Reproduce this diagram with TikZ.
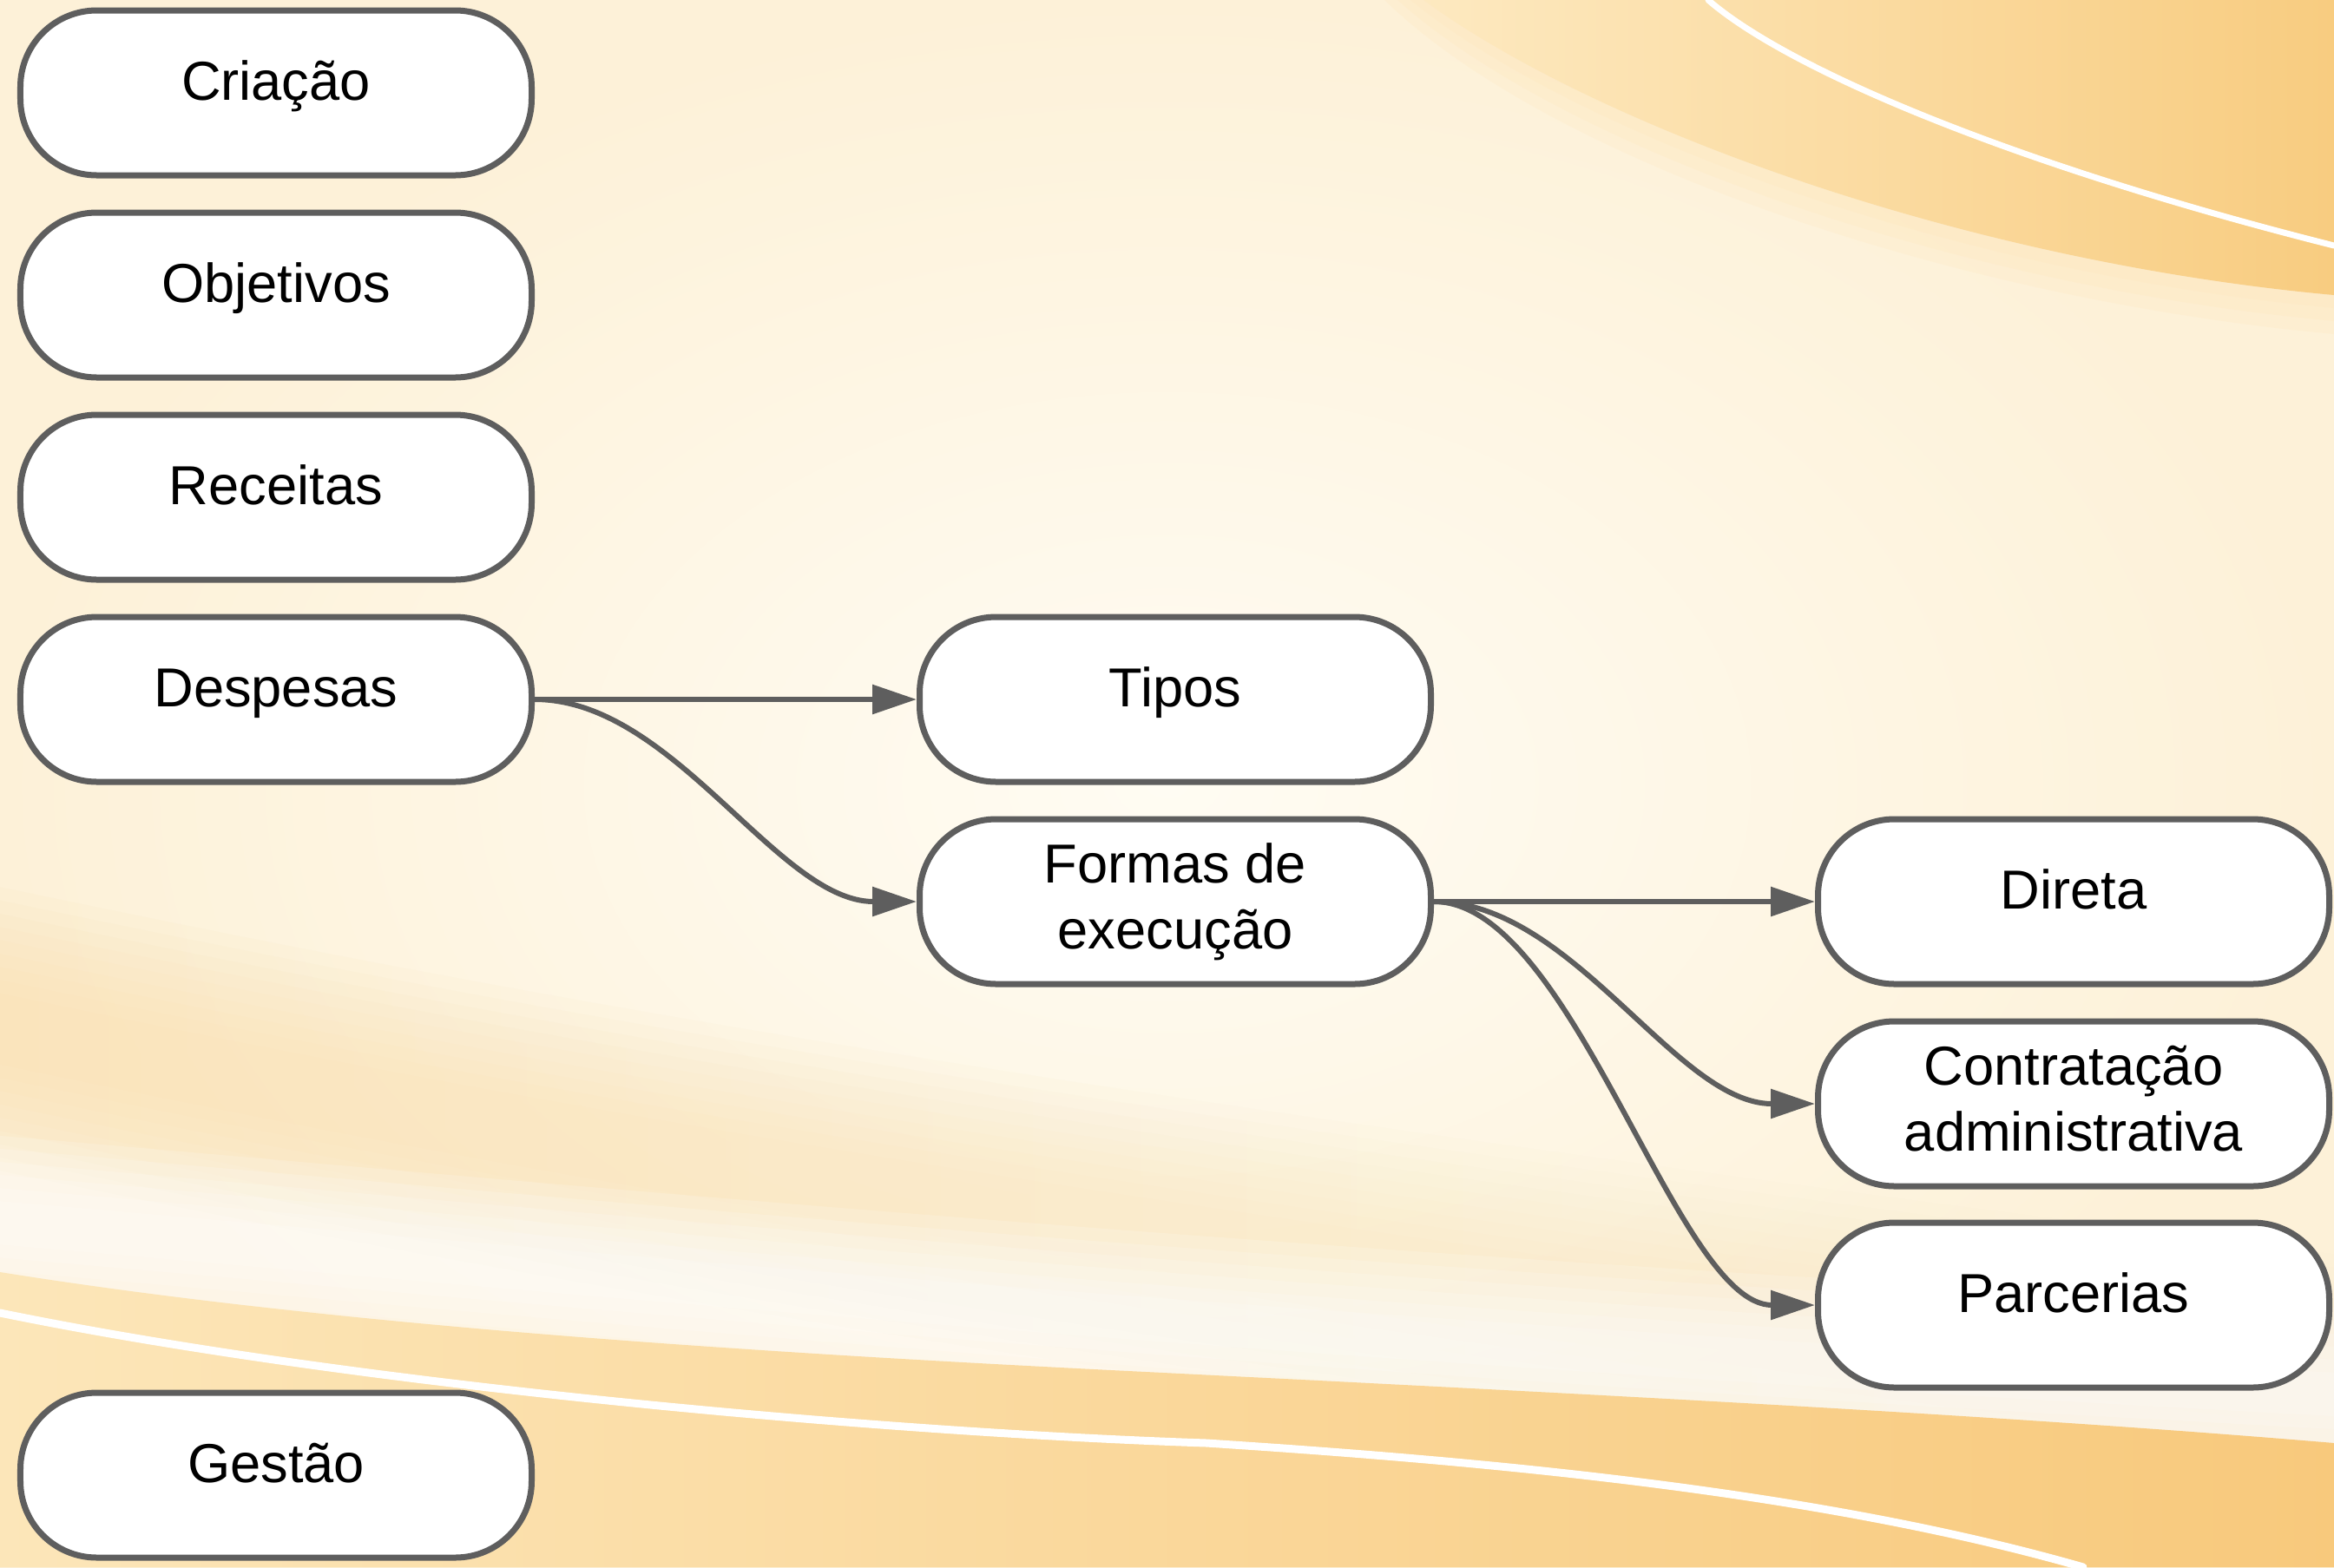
\documentclass[tikz,border=0pt]{standalone}
\usepackage{fontspec}
\setmainfont{Liberation Sans}
\usetikzlibrary{arrows.meta,fadings}
\definecolor{edgegray}{HTML}{5E5E5E}
\definecolor{bgin}{HTML}{FFFCF3}
\definecolor{bgout}{HTML}{FDF1D8}
\definecolor{orA}{HTML}{FDE9C0}
\definecolor{orB}{HTML}{F8CC80}
\definecolor{orC}{HTML}{FCE6B9}
\definecolor{orD}{HTML}{F8C97C}
\definecolor{faintA}{HTML}{FAE0AE}
\begin{document}
\begin{tikzpicture}[x=1cm,y=1cm,
  box/.style={draw=edgegray, line width=0.07cm, fill=white, rounded corners=0.88cm,
              minimum width=5.89cm, minimum height=1.90cm, inner sep=0pt},
  lbl/.style={font=\fontsize{18}{22}\selectfont, inner sep=0pt, anchor=base, text=black},
  conn/.style={draw=edgegray, line width=0.06cm, -{Triangle[length=0.51cm,width=0.33cm]}},
  wline/.style={draw=white, line cap=round}
]
\useasboundingbox (0,0) rectangle (26.89,-18.06);
% ---------- background ----------
\begin{scope}
\clip (0,0) rectangle (26.89,-18.06);
\shade[inner color=bgin, outer color=bgout] (0,0) rectangle (26.89,-18.06);
% top-right orange swoosh (soft edge + body)
\foreach \d/\o in {0.45/0.25, 0.3/0.3, 0.15/0.35}
  \fill[orA, opacity=\o] ([xshift=-\d cm]16.40,0) .. controls ([xshift=-\d cm, yshift=-\d cm]18.3,-1.4) and ([yshift=-\d cm]22.5,-3.0) .. ([yshift=-\d cm]26.89,-3.40) -- (26.89,0) -- cycle;
\shade[left color=orA, right color=orB] (16.40,0) .. controls (18.3,-1.4) and (22.5,-3.0) .. (26.89,-3.40) -- (26.89,0) -- cycle;
\draw[wline, line width=0.07cm] (19.68,0) .. controls (20.6,-0.8) and (23.2,-1.9) .. (26.89,-2.83);
% faint orange band at left (soft)
\foreach \w in {3.2,2.9,2.6,2.3,2.0,1.7,1.4,1.1,0.8}
  \draw[faintA, line width=\w cm, opacity=0.10, path fading=east]
    (-0.5,-11.75) .. controls (5,-12.9) and (11,-14.1) .. (28,-16.2);
% bright white swoosh (soft)
\foreach \w in {2.0,1.7,1.4,1.1,0.8,0.5}
  \draw[white, line width=\w cm, opacity=0.16]
    (-0.5,-14.05) .. controls (6,-14.6) and (14,-15.4) .. (27.5,-16.1);
% bottom orange region
\shade[left color=orC, right color=orD]
  (0,-14.66) .. controls (4,-15.3) and (9,-15.6) .. (13,-15.8)
  .. controls (18,-16.05) and (23,-16.3) .. (26.89,-16.63)
  -- (26.89,-18.06) -- (0,-18.06) -- cycle;
\draw[wline, line width=0.09cm]
  (0,-15.13) .. controls (4,-15.95) and (10,-16.5) .. (13.9,-16.63)
  .. controls (17.3,-16.85) and (21,-17.2) .. (24.0,-18.06);
\end{scope}
% ---------- nodes ----------
\node[box] (crea)   at (3.18,-1.07) {};
\node[box] (obj)    at (3.18,-3.40) {};
\node[box] (rec)    at (3.18,-5.73) {};
\node[box] (desp)   at (3.18,-8.06) {};
\node[box] (gest)   at (3.18,-17.00) {};
\node[box] (tipos)  at (13.54,-8.06) {};
\node[box] (formas) at (13.54,-10.39) {};
\node[box] (direta) at (23.89,-10.39) {};
\node[box] (contr)  at (23.89,-12.72) {};
\node[box] (parc)   at (23.89,-15.04) {};
% ---------- labels ----------
\node[lbl] (creaT)   at ([yshift=-0.08cm]crea.center) {Criação};
\node[lbl] (objT)    at ([yshift=-0.08cm]obj.center) {Objetivos};
\node[lbl] (recT)    at ([yshift=-0.08cm]rec.center) {Receitas};
\node[lbl] (despT)   at ([yshift=-0.08cm]desp.center) {Despesas};
\node[lbl] (gestT)   at ([yshift=-0.08cm]gest.center) {Gestão};
\node[lbl] (tiposT)  at ([yshift=-0.08cm]tipos.center) {Tipos};
\node[lbl] (formasT1) at ([yshift=0.22cm]formas.center) {Formas de};
\node[lbl] (formasT2) at ([yshift=-0.54cm]formas.center) {execução};
\node[lbl] (diretaT) at ([yshift=-0.08cm]direta.center) {Direta};
\node[lbl] (contrT1) at ([yshift=0.22cm]contr.center) {Contratação};
\node[lbl] (contrT2) at ([yshift=-0.54cm]contr.center) {administrativa};
\node[lbl] (parcT)   at ([yshift=-0.08cm]parc.center) {Parcerias};
% ---------- connectors ----------
\draw[conn] (desp.east) -- (tipos.west);
\draw[conn] (desp.east) .. controls +(1.6,0) and +(-1.6,0) .. (formas.west);
\draw[conn] (formas.east) -- (direta.west);
\draw[conn] (formas.east) .. controls +(1.6,0) and +(-1.6,0) .. (contr.west);
\draw[conn] (formas.east) .. controls +(1.6,0) and +(-1.6,0) .. (parc.west);
\end{tikzpicture}
\end{document}
